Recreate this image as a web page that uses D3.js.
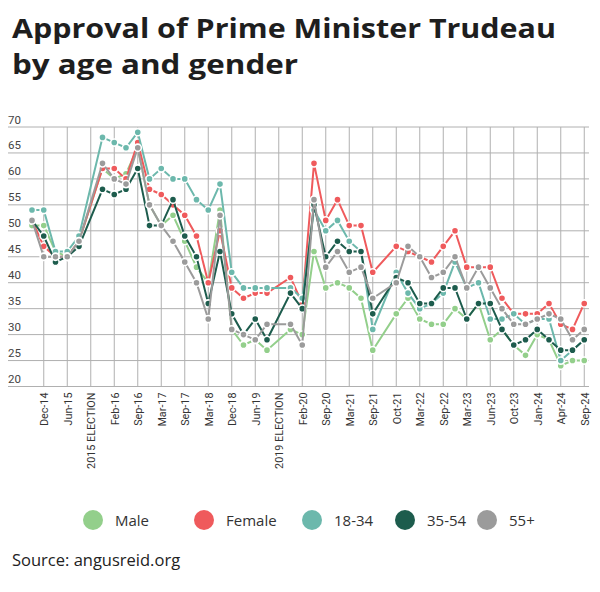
<!DOCTYPE html>
<html><head><meta charset="utf-8">
<script src="https://cdn.jsdelivr.net/npm/d3@7"></script>
<style>
html,body{margin:0;padding:0;background:#fff;}
svg{display:block;}
</style></head>
<body>
<svg id="chart" width="600" height="592"></svg>
<script>
// 48 survey waves; tick labels sit on every second wave (indices 1,3,...,47)
const tickLabels = ["Dec-14","Jun-15","2015 ELECTION","Feb-16","Sep-16","Mar-17","Sep-17","Mar-18","Dec-18","Jun-19","2019 ELECTION","Feb-20","Sep-20","Mar-21","Sep-21","Oct-21","Mar-22","Sep-22","Mar-23","Jun-23","Oct-23","Jan-24","Apr-24","Sep-24"];
const yTicks = [20,25,30,35,40,45,50,55,60,65,70];
const seriesNames = ["Male","Female","18-34","35-54","55+"];

const male   = [51,51,46,45,48,null,62,60,61,66,55,51,53,48,43,40,54,31,28,29,27,null,31,30,46,39,40,39,37,27,null,34,37,33,32,32,35,33,36,29,31,28,26,30,29,24,25,25];
const female = [52,47,45,45,48,null,62,62,60,67,58,57,55,53,49,40,50,39,37,38,38,null,41,36,63,52,56,51,51,42,null,47,46,45,44,47,50,43,43,43,37,34,34,34,36,32,31,36];
const age1834= [54,54,46,46,49,null,68,67,66,69,60,62,60,60,56,54,59,42,39,39,39,null,39,37,54,50,52,48,46,31,null,42,38,35,36,38,44,39,40,33,33,34,32,33,33,25,27,29];
const age3554= [52,49,44,45,47,null,58,57,58,62,51,51,56,49,45,36,46,34,30,33,29,null,38,35,55,45,48,46,46,34,null,41,40,36,36,39,39,33,36,36,31,28,29,31,29,27,27,29];
const age55  = [52,45,45,45,48,null,63,60,59,66,55,51,48,44,40,33,53,31,30,29,32,null,32,28,56,43,46,42,43,37,null,40,47,45,41,42,45,39,43,39,35,32,32,33,34,33,29,31];

const colors = ["#93cf8b","#ef5a5c","#6cb8ac","#1d5c4d","#9b9b9b"];
const seriesData = [male, female, age1834, age3554, age55];

const svg = d3.select("#chart");
const n = male.length;
const x = d3.scaleLinear().domain([0, n-1]).range([32, 584.25]);
const y = d3.scaleLinear().domain([20,70]).range([386.5,127]);
const font = "Roboto, 'Liberation Sans', Arial, sans-serif";

// Title
svg.append("text").attr("x",12).attr("y",38)
  .attr("font-family","'Open Sans', sans-serif").attr("font-weight",700)
  .attr("font-size",26).attr("fill","#1e1e1e")
  .attr("textLength",544).attr("lengthAdjust","spacingAndGlyphs")
  .text("Approval of Prime Minister Trudeau");
svg.append("text").attr("x",12).attr("y",74)
  .attr("font-family","'Open Sans', sans-serif").attr("font-weight",700)
  .attr("font-size",26).attr("fill","#1e1e1e")
  .attr("textLength",286).attr("lengthAdjust","spacingAndGlyphs")
  .text("by age and gender");

// grid
const tickIdx = tickLabels.map((d,i)=>2*i+1);
const g = svg.append("g");
g.selectAll("line.h").data(yTicks).join("line")
  .attr("x1",8).attr("x2",589).attr("y1",d=>y(d)).attr("y2",d=>y(d))
  .attr("stroke","#b0b0b0").attr("stroke-width",1);
g.selectAll("line.v").data(tickIdx).join("line")
  .attr("x1",d=>x(d)).attr("x2",d=>x(d)).attr("y1",y(70)).attr("y2",y(20))
  .attr("stroke","#b0b0b0").attr("stroke-width",1);

// y labels (above grid lines)
g.selectAll("text.yl").data(yTicks).join("text")
  .attr("x",8).attr("y",d=>y(d)-3.5)
  .attr("font-family",font).attr("font-size",11.5).attr("fill","#444")
  .text(d=>d);

// x axis labels
const xAxis = d3.axisBottom(x).tickValues(tickIdx).tickFormat(i=>tickLabels[(i-1)/2]).tickSize(0);
const ax = svg.append("g").attr("transform","translate(0,386.5)").call(xAxis);
ax.select(".domain").remove();
ax.selectAll("text")
  .attr("font-family",font).attr("font-size",10.8).attr("fill","#333")
  .attr("text-anchor","end").attr("dy","0.35em")
  .attr("transform","translate(0,6) rotate(-90)")
  .attr("x",0).attr("y",0);

// lines + markers
const line = d3.line().x(d=>x(d.i)).y(d=>y(d.v));
seriesData.forEach((arr,k)=>{
  const pts = arr.map((v,i)=>({i,v})).filter(d=>d.v!=null);
  const sg = svg.append("g");
  sg.append("path").datum(pts).attr("d",line)
    .attr("fill","none").attr("stroke",colors[k]).attr("stroke-width",2);
  sg.selectAll("circle").data(pts).join("circle")
    .attr("cx",d=>x(d.i)).attr("cy",d=>y(d.v)).attr("r",3.6)
    .attr("fill",colors[k]).attr("stroke","#fff").attr("stroke-width",1.6);
});

// legend
const legX = [93,204,312,405,487];
const lg = svg.append("g");
seriesNames.forEach((name,k)=>{
  lg.append("circle").attr("cx",legX[k]).attr("cy",520).attr("r",10).attr("fill",colors[k]);
  lg.append("text").attr("x",legX[k]+22).attr("y",525.5)
    .attr("font-family","'Open Sans', sans-serif").attr("font-size",15).attr("fill","#333").text(name);
});

// source
svg.append("text").attr("x",12).attr("y",566)
  .attr("font-family","'Open Sans', sans-serif").attr("font-size",16.5).attr("fill","#222")
  .text("Source: angusreid.org");
</script>
</body></html>
